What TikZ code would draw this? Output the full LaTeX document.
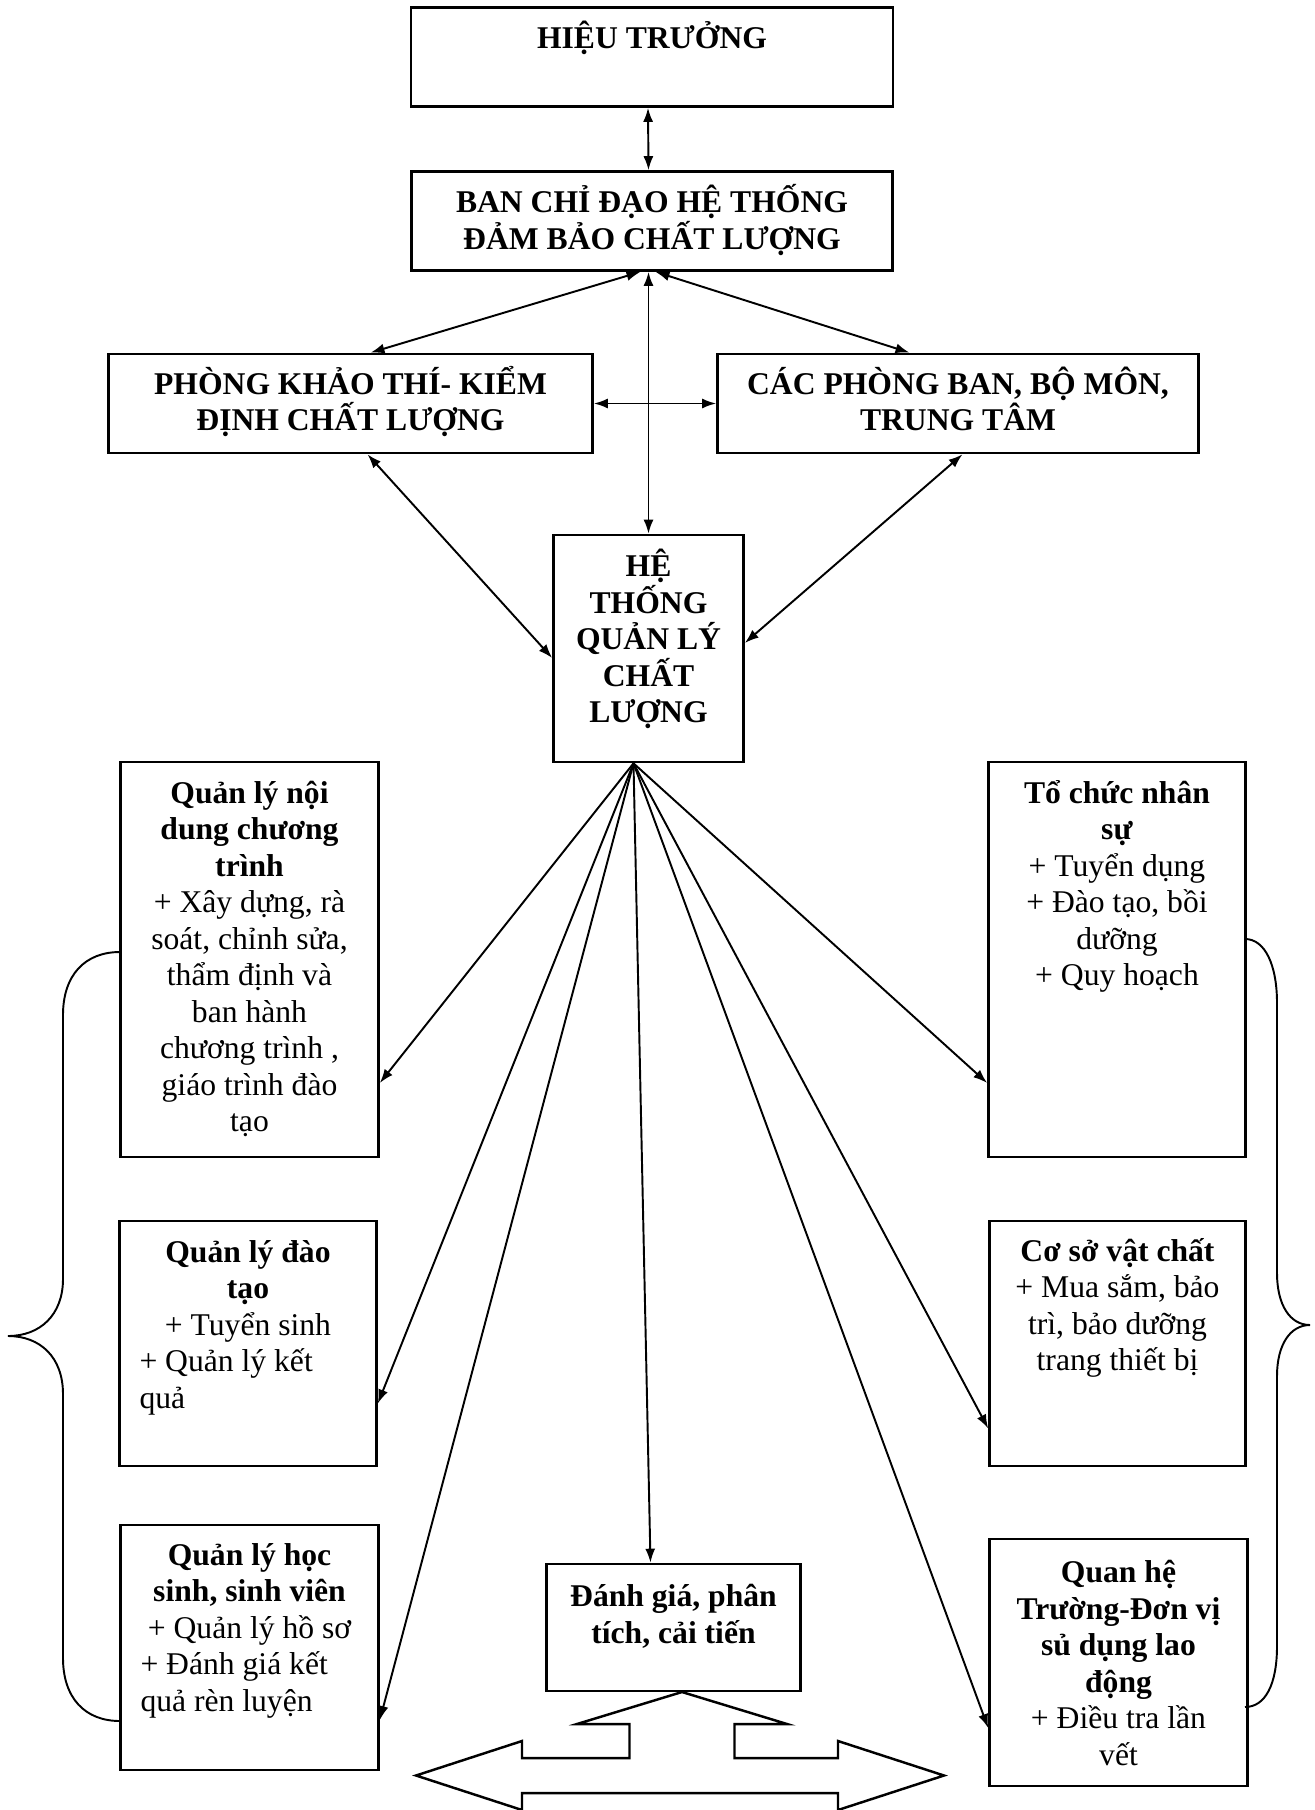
\documentclass[tikz,border=0pt]{standalone}
\usepackage{fontspec}
\setmainfont{Liberation Serif}
\usetikzlibrary{arrows.meta}
\begin{document}
\begin{tikzpicture}[font=\fontsize{18}{20.8}\selectfont, node distance=1cm]

    % Styles
    \tikzstyle{khung} = [rectangle, draw=black, line width=1.5pt, inner xsep=0.4cm, inner ysep=0pt]
    \tikzstyle{muiten} = [line width=1.1pt, ->, >={Latex[length=2.8mm, width=2mm]}]
    \tikzstyle{haichieu} = [muiten, <->]
    \tikzstyle{ngoac} = [line width=1.1pt]
    \tikzstyle{khoimuiten} = [line width=1.4pt, line join=miter]

    \useasboundingbox (0,0) rectangle (26.3,-36.2);

    % Khoi tren
    \node (hieu) [khung] at (13.04,-1.14) {\parbox[c][1.98cm][t]{8.84cm}{\centering\rule{0pt}{0.82cm}\textbf{HIỆU TRƯỞNG}}};
    \node (ban) [khung, below of=hieu, yshift=-2.28cm] {\parbox[c][1.98cm][t]{8.82cm}{\centering\rule{0pt}{0.82cm}\textbf{BAN CHỈ ĐẠO HỆ THỐNG\\ĐẢM BẢO CHẤT LƯỢNG}}};
    \node (phong) [khung, below of=ban, xshift=-6.03cm, yshift=-2.65cm] {\parbox[c][1.98cm][t]{8.88cm}{\centering\rule{0pt}{0.8cm}\textbf{PHÒNG KHẢO THÍ- KIỂM\\ĐỊNH CHẤT LƯỢNG}}};
    \node (cac) [khung, below of=ban, xshift=6.12cm, yshift=-2.65cm] {\parbox[c][1.98cm][t]{8.82cm}{\centering\rule{0pt}{0.8cm}\textbf{CÁC PHÒNG BAN, BỘ MÔN,\\TRUNG TÂM}}};
    \node (htql) [khung, inner xsep=0.2cm, below of=ban, xshift=-0.07cm, yshift=-7.55cm] {\parbox[c][4.54cm][t]{3.4cm}{\centering\rule{0pt}{0.83cm}\textbf{HỆ\\THỐNG\\QUẢN LÝ\\CHẤT\\LƯỢNG}}};

    % Khoi trai
    \node (nd) [khung, below of=htql, xshift=-7.98cm, yshift=-5.22cm] {\parbox[c][7.9cm][t]{4.36cm}{\centering\rule{0pt}{0.82cm}\textbf{Quản lý nội\\dung chương\\trình}\\+ Xây dựng, rà\\soát, chỉnh sửa,\\thẩm định và\\ban hành\\chương trình ,\\giáo trình đào\\tạo}};
    \node (dt) [khung, below of=nd, xshift=-0.03cm, yshift=-6.68cm] {\parbox[c][4.9cm][t]{4.34cm}{\centering\rule{0pt}{0.82cm}\textbf{Quản lý đào\\tạo}\\+ Tuyển sinh\par\raggedright + Quản lý kết\\quả}};
    \node (hs) [khung, below of=dt, xshift=0.03cm, yshift=-5.08cm] {\parbox[c][4.9cm][t]{4.36cm}{\centering\rule{0pt}{0.8cm}\textbf{Quản lý học\\sinh, sinh viên}\\+ Quản lý hồ sơ\par\raggedright + Đánh giá kết\\quả rèn luyện}};

    % Khoi phai
    \node (ns) [khung, below of=htql, xshift=9.37cm, yshift=-5.22cm] {\parbox[c][7.9cm][t]{4.34cm}{\centering\rule{0pt}{0.82cm}\textbf{Tổ chức nhân\\sự}\\+ Tuyển dụng\\+ Đào tạo, bồi\\dưỡng\\+ Quy hoạch}};
    \node (csvc) [khung, below of=ns, xshift=0.01cm, yshift=-6.68cm] {\parbox[c][4.9cm][t]{4.32cm}{\centering\rule{0pt}{0.8cm}\textbf{Cơ sở vật chất}\\+ Mua sắm, bảo\\trì, bảo dưỡng\\trang thiết bị}};
    \node (qh) [khung, below of=csvc, xshift=0.02cm, yshift=-5.38cm] {\parbox[c][4.94cm][t]{4.36cm}{\centering\rule{0pt}{0.87cm}\textbf{Quan hệ\\Trường-Đơn vị\\sủ dụng lao\\động}\\+ Điều tra lần\\vết}};

    % Khoi giua
    \node (dg) [khung, inner xsep=0.3cm, below of=htql, xshift=0.5cm, yshift=-18.58cm] {\parbox[c][2.54cm][t]{4.48cm}{\centering\rule{0pt}{0.85cm}\textbf{Đánh giá, phân\\tích, cải tiến}}};

    % Mui ten
    \draw [haichieu] ([xshift=-0.08cm]hieu.south) -- ([xshift=-0.07cm]ban.north);
    \draw [haichieu] ([xshift=-0.07cm]ban.south) -- (htql.north);
    \draw [haichieu] ([xshift=-0.23cm]ban.south) -- ([xshift=0.4cm]phong.north);
    \draw [haichieu] ([xshift=0.07cm]ban.south) -- ([xshift=-0.97cm]cac.north);
    \draw [haichieu] (phong.east) -- (cac.west);
    \draw [haichieu] ([xshift=0.34cm]phong.south) -- ([yshift=-0.19cm]htql.west);
    \draw [haichieu] ([xshift=0.09cm]cac.south) -- ([yshift=0.11cm]htql.east);

    \coordinate (goc) at ([xshift=-0.3cm]htql.south);
    \draw [muiten] (goc) -- ([yshift=-2.47cm]nd.east);
    \draw [muiten] (goc) -- ([yshift=-1.2cm]dt.east);
    \draw [muiten] (goc) -- ([yshift=-1.45cm]hs.east);
    \draw [muiten] (goc) -- ([xshift=-0.46cm]dg.north);
    \draw [muiten] (goc) -- ([yshift=-2.47cm]ns.west);
    \draw [muiten] (goc) -- ([yshift=-1.7cm]csvc.west);
    \draw [muiten] (goc) -- ([yshift=-1.31cm]qh.west);

    % Ngoac
    \draw [ngoac] (2.4,-19.04) .. controls (1.7,-19.04) and (1.26,-19.5) .. (1.26,-20.3) -- (1.26,-25.58) .. controls (1.26,-26.3) and (0.8,-26.72) .. (0.16,-26.72) .. controls (0.8,-26.72) and (1.26,-27.14) .. (1.26,-27.88) -- (1.26,-33.16) .. controls (1.26,-33.96) and (1.7,-34.42) .. (2.4,-34.42);
    \draw [ngoac] (24.9,-18.78) .. controls (25.3,-18.78) and (25.54,-19.3) .. (25.54,-20.06) -- (25.54,-25.46) .. controls (25.54,-26.1) and (25.8,-26.5) .. (26.2,-26.5) .. controls (25.8,-26.5) and (25.54,-26.9) .. (25.54,-27.52) -- (25.54,-32.92) .. controls (25.54,-33.7) and (25.3,-34.14) .. (24.9,-34.14);

    % Khoi mui ten
    \draw [khoimuiten] (13.64,-33.84) -- (15.74,-34.48) -- (14.69,-34.48) -- (14.69,-35.16) -- (16.76,-35.16) -- (16.76,-34.82) -- (18.88,-35.51) -- (16.76,-36.2) -- (16.76,-35.86) -- (10.44,-35.86) -- (10.44,-36.2) -- (8.32,-35.51) -- (10.44,-34.82) -- (10.44,-35.16) -- (12.59,-35.16) -- (12.59,-34.48) -- (11.54,-34.48) -- cycle;

\end{tikzpicture}
\end{document}
